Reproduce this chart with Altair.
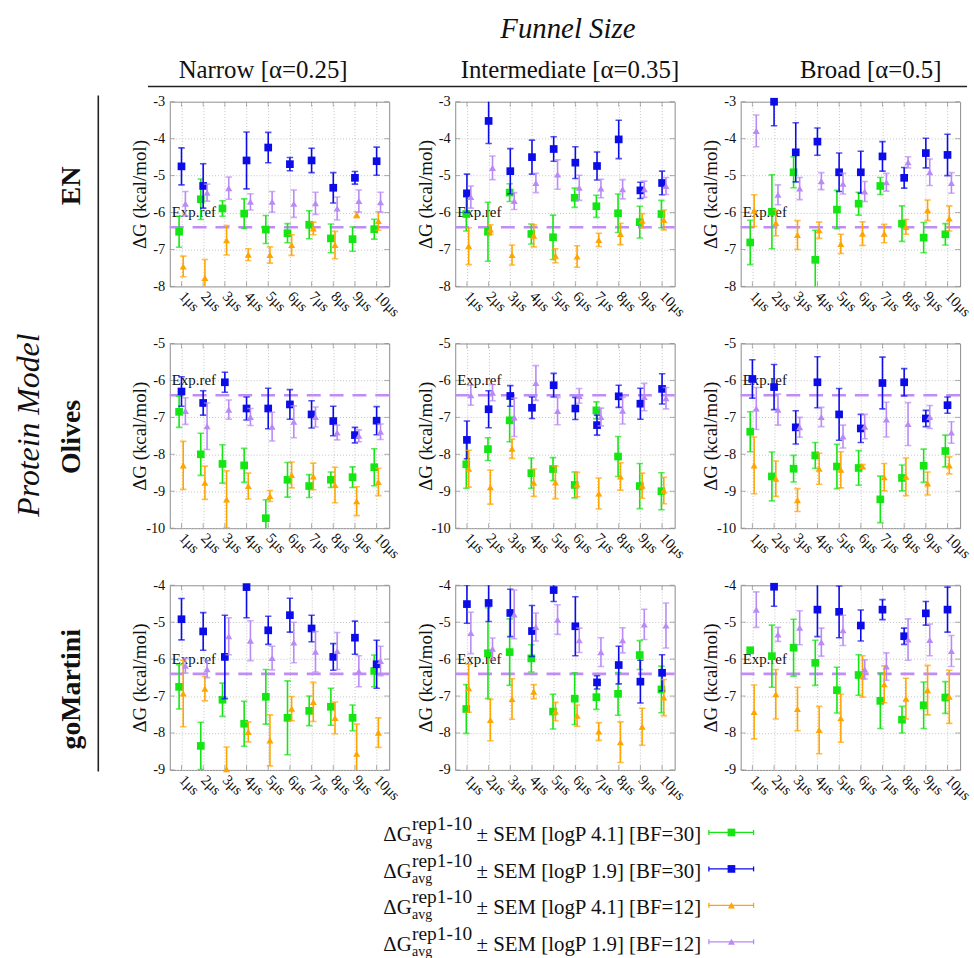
import altair as alt
import pandas as pd

# ---------------- data ----------------
times = [1, 2, 3, 4, 5, 6, 7, 8, 9, 10]
time_unit = "μs"
models = ["EN", "Olives", "goMartini"]
funnels = ["Narrow [α=0.25]", "Intermediate [α=0.35]", "Broad [α=0.5]"]
y_domains = [[-8, -3], [-10, -5], [-9, -4]]
exp_ref = -6.4
exp_label = "Exp.ref"
exp_label_y = -6.0
legend_texts = [
    "± SEM [logP 4.1] [BF=30]",
    "± SEM [logP 1.9] [BF=30]",
    "± SEM [logP 4.1] [BF=12]",
    "± SEM [logP 1.9] [BF=12]",
]

# EN / Narrow
en_narrow_g = [-6.52, -5.64, -5.89, -6.03, -6.46, -6.56, -6.33, -6.70, -6.72, -6.45]
en_narrow_g_err = [0.42, 0.55, 0.21, 0.40, 0.38, 0.26, 0.38, 0.39, 0.33, 0.27]
en_narrow_b = [-4.75, -5.28, None, -4.59, -4.24, -4.69, -4.59, -5.33, -5.06, -4.61]
en_narrow_b_err = [0.50, 0.60, None, 0.77, 0.41, 0.18, 0.33, 0.41, 0.17, 0.38]
en_narrow_o = [-7.46, -7.77, -6.75, -7.14, -7.15, -6.88, -6.43, -6.88, -6.06, -6.23]
en_narrow_o_err = [0.28, 0.50, 0.40, 0.16, 0.22, 0.28, 0.17, 0.37, 0.08, 0.25]
en_narrow_p = [-5.76, -5.46, -5.34, -5.71, -5.71, -5.76, -5.75, -5.89, -5.69, -5.72]
en_narrow_p_err = [0.33, 0.23, 0.30, 0.22, 0.28, 0.37, 0.30, 0.31, 0.30, 0.27]

# EN / Intermediate
en_inter_g = [-6.04, -6.52, -5.46, -6.58, -6.67, -5.60, -5.83, -6.02, -6.26, -6.04]
en_inter_g_err = [0.46, 0.80, 0.24, 0.27, 0.60, 0.26, 0.30, 0.52, 0.43, 0.37]
en_inter_b = [-5.48, -3.52, -4.88, -4.50, -4.28, -4.65, -4.74, -4.02, -5.40, -5.20]
en_inter_b_err = [0.52, 0.61, 0.61, 0.46, 0.33, 0.43, 0.38, 0.52, 0.22, 0.32]
en_inter_o = [-6.91, -6.46, -7.15, -6.63, -7.17, -7.19, -6.74, -6.58, -6.22, -6.20]
en_inter_o_err = [0.50, 0.13, 0.27, 0.30, 0.19, 0.29, 0.18, 0.29, 0.19, 0.27]
en_inter_p = [-5.58, -4.79, -5.69, -5.20, -4.97, -5.33, -5.35, -5.37, -5.37, -5.28]
en_inter_p_err = [0.30, 0.32, 0.23, 0.26, 0.40, 0.34, 0.25, 0.26, 0.22, 0.23]

# EN / Broad
en_broad_g = [-6.81, -5.98, -4.91, -7.28, -5.92, -5.76, -5.28, -6.30, -6.68, -6.59]
en_broad_g_err = [0.60, 1.00, 0.42, 0.80, 0.52, 0.31, 0.23, 0.48, 0.41, 0.29]
en_broad_b = [None, -3.00, -4.37, -4.08, -4.91, -4.91, -4.48, -5.06, -4.39, -4.44]
en_broad_b_err = [None, 0.65, 0.80, 0.37, 0.52, 0.57, 0.40, 0.28, 0.40, 0.56]
en_broad_o = [-5.95, -6.28, -6.61, -6.48, -6.85, -6.57, -6.57, -6.39, -5.94, -6.16]
en_broad_o_err = [0.43, 0.35, 0.39, 0.22, 0.26, 0.32, 0.25, 0.20, 0.28, 0.34]
en_broad_p = [-3.79, -5.52, -5.35, -5.15, -5.22, -5.43, -5.18, -4.64, -4.91, -5.20]
en_broad_p_err = [0.43, 0.27, 0.30, 0.23, 0.28, 0.27, 0.24, 0.15, 0.36, 0.28]

# Olives / Narrow
ol_narrow_g = [-6.85, -8.00, -8.26, -8.30, -9.73, -8.69, -8.86, -8.69, -8.62, -8.35]
ol_narrow_g_err = [0.42, 0.57, 0.52, 0.46, 0.50, 0.47, 0.31, 0.21, 0.28, 0.50]
ol_narrow_b = [-6.30, -6.61, -6.05, -6.76, -6.76, -6.65, -6.92, -7.10, -7.48, -7.09]
ol_narrow_b_err = [0.40, 0.33, 0.27, 0.31, 0.55, 0.40, 0.37, 0.40, 0.21, 0.38]
ol_narrow_o = [-8.30, -8.77, -9.22, -8.86, -9.13, -8.56, -8.60, -8.83, -9.27, -8.75]
ol_narrow_o_err = [0.65, 0.45, 0.77, 0.35, 0.15, 0.35, 0.36, 0.48, 0.39, 0.37]
ol_narrow_p = [-6.83, -7.24, -6.79, -6.99, -7.25, -7.12, -6.99, -7.41, -7.50, -7.39]
ol_narrow_p_err = [0.36, 0.63, 0.26, 0.23, 0.39, 0.43, 0.27, 0.20, 0.16, 0.21]

# Olives / Intermediate
ol_inter_g = [-8.27, -7.86, -7.08, -8.51, -8.40, -8.83, -6.81, -8.06, -8.86, -9.00]
ol_inter_g_err = [0.65, 0.31, 0.58, 0.41, 0.31, 0.35, 0.23, 0.54, 0.61, 0.50]
ol_inter_b = [-7.61, -6.78, -6.42, -6.74, -6.13, -6.76, -7.21, -6.43, -6.63, -6.23]
ol_inter_b_err = [0.51, 0.50, 0.28, 0.29, 0.32, 0.30, 0.27, 0.30, 0.42, 0.41]
ol_inter_o = [-8.39, -8.89, -7.85, -8.77, -8.76, -8.82, -9.06, -8.60, -8.85, -8.98]
ol_inter_o_err = [0.50, 0.46, 0.26, 0.37, 0.44, 0.33, 0.42, 0.37, 0.34, 0.36]
ol_inter_p = [-6.40, -6.33, -7.00, -6.07, -6.83, -6.42, -6.99, -6.82, -6.45, -6.48]
ol_inter_p_err = [0.27, 0.22, 0.52, 0.47, 0.37, 0.20, 0.24, 0.36, 0.37, 0.29]

# Olives / Broad
ol_broad_g = [-7.39, -8.60, -8.39, -8.03, -8.33, -8.37, -9.22, -8.64, -8.31, -7.91]
ol_broad_g_err = [0.54, 0.66, 0.36, 0.35, 0.60, 0.47, 0.63, 0.35, 0.45, 0.43]
ol_broad_b = [-5.96, -6.18, -7.27, -6.05, -6.92, -7.30, -6.07, -6.05, -7.03, -6.67]
ol_broad_b_err = [0.52, 0.61, 0.45, 0.69, 0.70, 0.38, 0.70, 0.37, 0.22, 0.22]
ol_broad_o = [-8.30, -8.66, -9.24, -8.39, -8.42, -8.33, -8.62, -8.61, -8.79, -8.30]
ol_broad_o_err = [0.77, 0.48, 0.31, 0.42, 0.49, 0.05, 0.37, 0.51, 0.31, 0.23]
ol_broad_p = [-6.76, -6.79, -7.27, -6.99, -7.52, -7.25, -7.06, -7.18, -6.99, -7.41]
ol_broad_p_err = [0.57, 0.42, 0.27, 0.26, 0.31, 0.33, 0.47, 0.58, 0.31, 0.29]

# goMartini / Narrow
gm_narrow_g = [-6.75, -8.35, -7.10, -7.75, -7.02, -7.59, -7.40, -7.29, -7.59, -6.32]
gm_narrow_g_err = [0.60, 0.64, 0.45, 0.61, 0.74, 1.00, 0.40, 0.50, 0.35, 0.43]
gm_narrow_b = [-4.92, -5.25, -5.94, -4.05, -5.22, -4.81, -5.17, -5.94, -5.42, -6.14]
gm_narrow_b_err = [0.56, 0.51, 1.13, 0.83, 0.38, 0.46, 0.36, 0.36, 0.45, 0.65]
gm_narrow_o = [-6.93, -6.80, -8.98, -7.97, -8.20, -7.34, -7.16, -7.59, -8.56, -7.99]
gm_narrow_o_err = [0.90, 0.33, 0.60, 0.27, 0.69, 0.33, 0.53, 0.43, 0.80, 0.40]
gm_narrow_p = [-6.18, -6.27, -5.38, -5.50, -5.97, -5.55, -5.80, -5.78, -6.33, -6.05]
gm_narrow_p_err = [0.20, 0.23, 0.50, 0.54, 0.32, 0.55, 0.55, 0.50, 0.42, 0.40]

# goMartini / Intermediate
gm_inter_g = [-7.35, -5.84, -5.81, -5.98, -7.42, -7.07, -7.03, -6.94, -5.89, -6.82]
gm_inter_g_err = [0.66, 1.23, 0.90, 0.37, 0.47, 0.70, 0.33, 0.58, 0.39, 0.63]
gm_inter_b = [-4.51, -4.48, -4.75, -5.24, -4.13, -5.11, -6.63, -6.16, -6.61, -6.37]
gm_inter_b_err = [0.52, 0.50, 0.64, 0.69, 0.31, 0.80, 0.18, 0.51, 0.58, 0.49]
gm_inter_o = [-6.79, -7.65, -7.08, -6.88, -7.42, -7.53, -7.96, -8.25, -7.83, -7.04]
gm_inter_o_err = [0.65, 0.56, 0.55, 0.19, 0.25, 0.29, 0.24, 0.55, 0.50, 0.49]
gm_inter_p = [-5.29, -5.72, -4.79, -5.13, -4.93, -5.49, -5.81, -5.49, -5.06, -5.09]
gm_inter_p_err = [0.56, 0.29, 0.66, 0.38, 0.40, 0.33, 0.39, 0.34, 0.41, 0.61]

# goMartini / Broad
gm_broad_g = [-5.76, -5.92, -5.69, -6.10, -6.84, -6.43, -7.13, -7.64, -7.25, -7.04]
gm_broad_g_err = [0.05, 0.84, 0.77, 0.61, 0.62, 0.55, 0.75, 0.36, 0.63, 0.43]
gm_broad_b = [None, -4.04, None, -4.66, -4.72, -5.09, -4.66, -5.38, -4.76, -4.66]
gm_broad_b_err = [None, 0.53, None, 0.73, 0.70, 0.42, 0.27, 0.22, 0.32, 0.61]
gm_broad_o = [-7.43, -6.95, -7.35, -7.92, -7.60, -6.47, -6.68, -7.07, -6.84, -7.02]
gm_broad_o_err = [0.73, 0.67, 0.59, 0.64, 0.65, 0.56, 0.50, 0.55, 0.67, 0.72]
gm_broad_p = [-4.66, -5.33, -5.15, -5.54, -5.22, -6.28, -6.20, -5.47, -5.48, -5.78]
gm_broad_p_err = [0.48, 0.19, 0.46, 0.38, 0.41, 0.26, 0.37, 0.56, 0.43, 0.42]

panel_series = [
    [
        [(en_narrow_g, en_narrow_g_err), (en_narrow_b, en_narrow_b_err), (en_narrow_o, en_narrow_o_err), (en_narrow_p, en_narrow_p_err)],
        [(en_inter_g, en_inter_g_err), (en_inter_b, en_inter_b_err), (en_inter_o, en_inter_o_err), (en_inter_p, en_inter_p_err)],
        [(en_broad_g, en_broad_g_err), (en_broad_b, en_broad_b_err), (en_broad_o, en_broad_o_err), (en_broad_p, en_broad_p_err)],
    ],
    [
        [(ol_narrow_g, ol_narrow_g_err), (ol_narrow_b, ol_narrow_b_err), (ol_narrow_o, ol_narrow_o_err), (ol_narrow_p, ol_narrow_p_err)],
        [(ol_inter_g, ol_inter_g_err), (ol_inter_b, ol_inter_b_err), (ol_inter_o, ol_inter_o_err), (ol_inter_p, ol_inter_p_err)],
        [(ol_broad_g, ol_broad_g_err), (ol_broad_b, ol_broad_b_err), (ol_broad_o, ol_broad_o_err), (ol_broad_p, ol_broad_p_err)],
    ],
    [
        [(gm_narrow_g, gm_narrow_g_err), (gm_narrow_b, gm_narrow_b_err), (gm_narrow_o, gm_narrow_o_err), (gm_narrow_p, gm_narrow_p_err)],
        [(gm_inter_g, gm_inter_g_err), (gm_inter_b, gm_inter_b_err), (gm_inter_o, gm_inter_o_err), (gm_inter_p, gm_inter_p_err)],
        [(gm_broad_g, gm_broad_g_err), (gm_broad_b, gm_broad_b_err), (gm_broad_o, gm_broad_o_err), (gm_broad_p, gm_broad_p_err)],
    ],
]

# ---------------- style / layout ----------------
FONT = "Liberation Serif"
COLORS = ["#14e614", "#0c0ce8", "#ffa500", "#b98af7"]
SHAPES = ["square", "square", "triangle-up", "triangle-up"]
SIZES = [60, 60, 50, 50]
SERIES_DX = [[-0.11, 0.0, 0.08, 0.18], [-0.03, 0.0, 0.08, 0.18], [-0.1, 0.0, 0.08, 0.18]]
REF_COLOR = "#c08cf5"
FRAME_COLOR = "#8c8c8c"

W, H = 221, 186
COL_GAP, ROW_GAP = 66.5, 57.5
OX, OY = 170.0, 98.3      # page position of the first panel's plot area
PAGE_W, PAGE_H = 974, 958
TICK_FS = 14.5
INNER_TICK = 5


def rel_x(px):
    return px - OX


def rel_y(py):
    return py - OY


def text_layer(s, px, py, size, **kw):
    return alt.Chart(pd.DataFrame({"t": [s]})).mark_text(
        font=FONT, fontSize=size, color="#111111", **kw
    ).encode(x=alt.value(rel_x(px)), y=alt.value(rel_y(py)), text="t:N")


def hrule(px1, px2, py, color="#222222", width=1.5):
    return alt.Chart(pd.DataFrame({"k": [0]})).mark_rule(color=color, strokeWidth=width).encode(
        x=alt.value(rel_x(px1)), x2=alt.value(rel_x(px2)), y=alt.value(rel_y(py))
    )


def vrule(px, py1, py2, color="#222222", width=1.5):
    return alt.Chart(pd.DataFrame({"k": [0]})).mark_rule(color=color, strokeWidth=width).encode(
        x=alt.value(rel_x(px)), y=alt.value(rel_y(py1)), y2=alt.value(rel_y(py2))
    )


def annotation_layers():
    layers = []
    # invisible page-sized rect: fixes the overall bounds to the page
    layers.append(
        alt.Chart(pd.DataFrame({"k": [0]})).mark_rect(fill="white", opacity=0).encode(
            x=alt.value(rel_x(0)), x2=alt.value(rel_x(PAGE_W)),
            y=alt.value(rel_y(0)), y2=alt.value(rel_y(PAGE_H)),
        )
    )
    layers.append(text_layer("Funnel Size", 571, 25, 29, fontStyle="italic", align="center", baseline="middle"))
    layers.append(hrule(148, 973, 83, width=1.6))
    for s, cx in zip(funnels, [264, 573, 876]):
        layers.append(text_layer(s, cx, 66, 25, align="center", baseline="middle"))
    layers.append(text_layer("Protein Model", 28, 424, 32, fontStyle="italic", angle=270,
                             align="center", baseline="middle"))
    layers.append(vrule(98, 92, 773, width=1.6))
    for s, cy in zip(models, [183, 436, 690]):
        layers.append(text_layer(s, 72, cy, 28, fontWeight="bold", angle=270,
                                 align="center", baseline="middle"))

    # legend (label on the left, sample on the right)
    leg_y0, leg_dy = 843.3, 36.7
    leg_df = pd.DataFrame({
        "row": [0, 1, 2, 3],
        "label": legend_texts,
        "head": ["ΔG"] * 4,
        "sub": ["avg"] * 4,
        "sup": ["rep1-10"] * 4,
    })
    base = alt.Chart(leg_df).transform_calculate(py=f"{rel_y(leg_y0)} + datum.row * {leg_dy}")
    ypix = alt.Y("py:Q", scale=None)
    layers.append(base.mark_text(font=FONT, fontSize=21, align="left", baseline="alphabetic", color="#111111")
                  .encode(x=alt.value(rel_x(385)), y=ypix, text="head:N"))
    layers.append(base.mark_text(font=FONT, fontSize=14, align="left", baseline="alphabetic", dy=5, color="#111111")
                  .encode(x=alt.value(rel_x(414)), y=ypix, text="sub:N"))
    layers.append(base.mark_text(font=FONT, fontSize=19.5, align="left", baseline="alphabetic", dy=-11, color="#111111")
                  .encode(x=alt.value(rel_x(414)), y=ypix, text="sup:N"))
    layers.append(base.mark_text(font=FONT, fontSize=21, align="left", baseline="alphabetic", color="#111111")
                  .encode(x=alt.value(rel_x(479)), y=ypix, text="label:N"))
    for k in range(4):
        ly = leg_y0 - 9 + k * leg_dy
        layers.append(hrule(713, 758, ly, color=COLORS[k], width=1.3))
        layers.append(vrule(713, ly - 2.5, ly + 2.5, color=COLORS[k], width=1.3))
        layers.append(vrule(758, ly - 2.5, ly + 2.5, color=COLORS[k], width=1.3))
        layers.append(
            alt.Chart(pd.DataFrame({"k": [0]})).mark_point(
                shape=SHAPES[k], filled=True, size=SIZES[k], color=COLORS[k], opacity=1
            ).encode(x=alt.value(rel_x(735.7)), y=alt.value(rel_y(ly)))
        )
    return layers


def panel(r, c):
    ydom = y_domains[r]
    yticks = list(range(ydom[0], ydom[1] + 1))
    xscale = alt.Scale(domain=[0.46, 10.58], nice=False, zero=False)
    yscale = alt.Scale(domain=ydom, nice=False, zero=False)
    xaxis = alt.Axis(
        values=times, labelExpr=f"datum.value + '{time_unit}'", title=None,
        labelAngle=45, labelAlign="left", labelBaseline="middle", labelPadding=7,
        labelFontSize=15, labelFont=FONT,
        labelFlush=False, labelOverlap=False, grid=True, ticks=False, domain=False,
    )
    yaxis = alt.Axis(
        values=yticks, labelExpr="'-' + abs(datum.value)",
        title="ΔG (kcal/mol)", titleX=-30, titleY=H / 2, titleAngle=270,
        titleAlign="center", titleBaseline="middle", labelPadding=5,
        labelFontSize=TICK_FS, labelFont=FONT,
        labelFlush=False, labelOverlap=False, grid=True, ticks=False, domain=False,
    )

    layers = []
    if r == 0 and c == 0:
        layers += annotation_layers()

    # inner (mirrored) tick marks on the frame
    ytick_df = pd.DataFrame({"yt": yticks})
    xtick_df = pd.DataFrame({"xt": times})
    for xv in [INNER_TICK / 2, W - INNER_TICK / 2]:
        layers.append(alt.Chart(ytick_df).mark_tick(
            color=FRAME_COLOR, orient="horizontal", size=INNER_TICK, thickness=1
        ).encode(x=alt.value(xv), y=alt.Y("yt:Q", scale=yscale, axis=yaxis)))
    for yv in [INNER_TICK / 2, H - INNER_TICK / 2]:
        layers.append(alt.Chart(xtick_df).mark_tick(
            color=FRAME_COLOR, orient="vertical", size=INNER_TICK, thickness=1
        ).encode(x=alt.X("xt:Q", scale=xscale, axis=xaxis), y=alt.value(yv)))

    ref_df = pd.DataFrame({"ref": [exp_ref], "lab": [exp_label], "ly": [exp_label_y]})
    layers.append(
        alt.Chart(ref_df).mark_rule(color=REF_COLOR, strokeWidth=2.6, strokeDash=[14, 9])
        .encode(y=alt.Y("ref:Q", scale=yscale, axis=yaxis))
    )
    layers.append(
        alt.Chart(ref_df).mark_text(font=FONT, fontSize=15, align="left", baseline="middle", color="#111111")
        .encode(x=alt.value(2), y=alt.Y("ly:Q", scale=yscale, axis=yaxis), text="lab:N")
    )

    for k, (vals, errs) in enumerate(panel_series[r][c]):
        rows = [
            {"t": t, "val": v, "err": e}
            for t, v, e in zip(times, vals, errs) if v is not None
        ]
        df = pd.DataFrame(rows)
        base = alt.Chart(df).transform_calculate(
            xpos=f"datum.t + ({SERIES_DX[c][k]})",
            lo="datum.val - datum.err",
            hi="datum.val + datum.err",
        )
        x_enc = alt.X("xpos:Q", scale=xscale, axis=xaxis)
        col = COLORS[k]
        layers.append(base.mark_rule(color=col, strokeWidth=1.6, clip=True).encode(
            x=x_enc, y=alt.Y("lo:Q", scale=yscale, axis=yaxis), y2="hi:Q"))
        layers.append(base.mark_tick(color=col, orient="horizontal", size=6.5, thickness=1.6, clip=True).encode(
            x=x_enc, y=alt.Y("lo:Q", scale=yscale, axis=yaxis)))
        layers.append(base.mark_tick(color=col, orient="horizontal", size=6.5, thickness=1.6, clip=True).encode(
            x=x_enc, y=alt.Y("hi:Q", scale=yscale, axis=yaxis)))
        layers.append(base.mark_point(shape=SHAPES[k], filled=True, size=SIZES[k], color=col, opacity=1).encode(
            x=x_enc, y=alt.Y("val:Q", scale=yscale, axis=yaxis)))

    return alt.layer(*layers).properties(width=W, height=H)


panels = [panel(r, c) for r in range(3) for c in range(3)]

chart = (
    alt.concat(*panels, columns=3, spacing={"row": ROW_GAP, "column": COL_GAP}, bounds="flush")
    .properties(padding=0, background="white")
    .configure_view(stroke=FRAME_COLOR, strokeWidth=1)
    .configure_axis(
        labelFont=FONT, titleFont=FONT, labelFontSize=TICK_FS, titleFontSize=19,
        titleFontWeight="normal", labelColor="#111111", titleColor="#111111",
        gridColor="#c4c4c4", gridDash=[1, 2], gridWidth=1,
    )
)

chart.save("out.html", embed_options={"renderer": "svg", "actions": False})
